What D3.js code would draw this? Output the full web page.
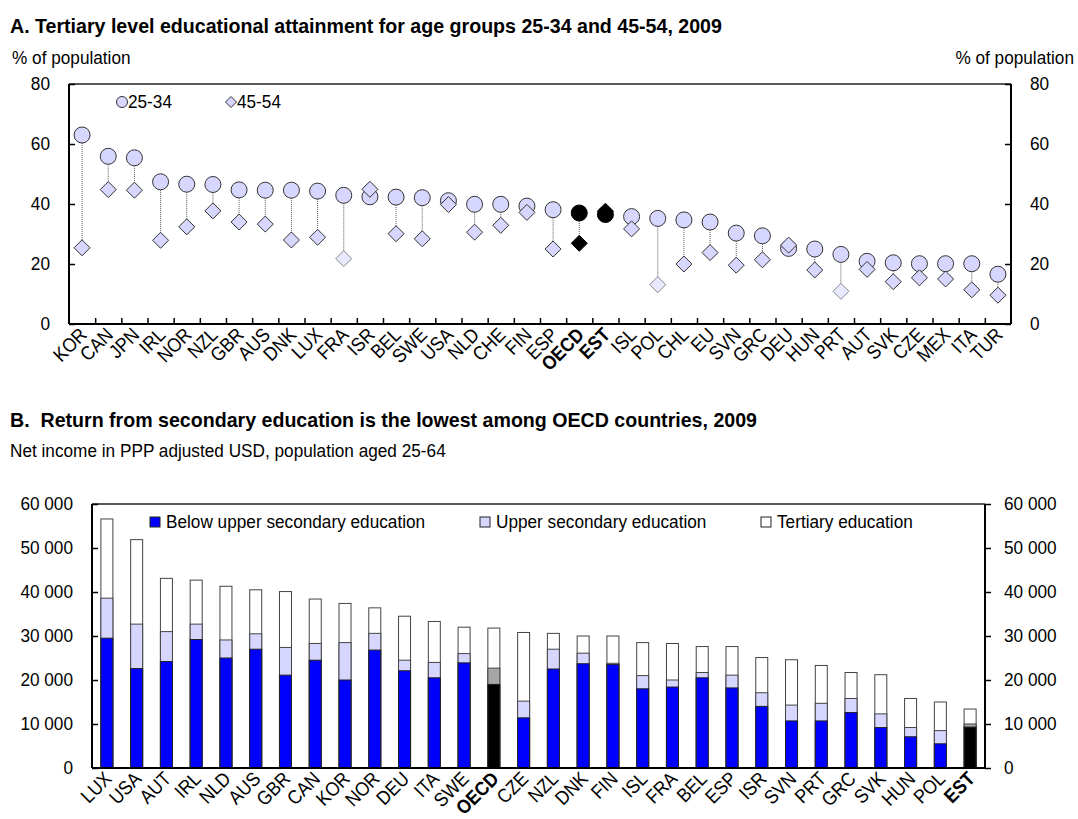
<!DOCTYPE html>
<html><head><meta charset="utf-8">
<script src="https://cdn.jsdelivr.net/npm/d3@7"></script>
<style>
body{margin:0;background:#fff;}
svg text{font-family:"Liberation Sans Narrow","Arial Narrow","Liberation Sans",Arial,sans-serif;fill:#000;}
</style></head>
<body><svg id="c" width="1078" height="819"></svg>
<script>
// ---------- Panel A data ----------
const countriesA = ["KOR","CAN","JPN","IRL","NOR","NZL","GBR","AUS","DNK","LUX","FRA","ISR","BEL","SWE","USA","NLD","CHE","FIN","ESP","OECD","EST","ISL","POL","CHL","EU","SVN","GRC","DEU","HUN","PRT","AUT","SVK","CZE","MEX","ITA","TUR"];
const age2534 = [63.0,55.9,55.4,47.4,46.6,46.5,44.7,44.6,44.6,44.3,42.9,42.4,42.3,42.1,41.1,39.9,39.9,39.3,38.1,37.0,36.5,35.8,35.2,34.7,34.0,30.3,29.4,25.2,25.0,23.2,20.9,20.4,20.1,20.1,20.1,16.6];
const age4554 = [25.4,44.8,44.6,27.9,32.4,37.7,34.0,33.3,28.0,28.9,21.8,44.9,30.1,28.4,39.8,30.6,32.9,37.2,25.0,26.9,37.6,31.7,13.1,20.0,23.8,19.6,21.4,26.3,18.0,10.9,18.2,14.1,15.4,15.0,11.4,9.6];
const highlightA = ["OECD","EST"];
const fadedA = ["FRA","POL","PRT"];
const ticksA = [0,20,40,60,80];
const seriesA = ["25-34","45-54"];

// ---------- Panel B data ----------
const countriesB = ["LUX","USA","AUT","IRL","NLD","AUS","GBR","CAN","KOR","NOR","DEU","ITA","SWE","OECD","CZE","NZL","DNK","FIN","ISL","FRA","BEL","ESP","ISR","SVN","PRT","GRC","SVK","HUN","POL","EST"];
const belowUpper = [29500,22600,24200,29200,25000,27000,21100,24500,20000,26800,22100,20500,23900,19000,11400,22500,23700,23500,18000,18400,20500,18200,14000,10700,10700,12600,9200,7100,5500,9300];
const upperSec = [38600,32700,31000,32700,29100,30500,27400,28300,28500,30600,24500,24000,26000,22700,15200,27000,26100,23800,21000,20000,21700,21100,17100,14300,14700,15800,12300,9200,8500,10000];
const tertiary = [56600,51900,43100,42700,41300,40500,40100,38400,37400,36400,34500,33300,32000,31800,30800,30600,30000,30000,28500,28300,27600,27600,25100,24600,23300,21700,21200,15800,15000,13400];
const highlightB = ["OECD","EST"];
const ticksB = [0,10000,20000,30000,40000,50000,60000];
const seriesB = ["Below upper secondary education","Upper secondary education","Tertiary education"];

const svg = d3.select("#c");
const LAV = "#d6d6ff", LAVF = "#e8e8ff";
const FS = 18.5, SX = 0.93, TFS = 20, TSX = 0.98, XFS = 19.5, XSX = 0.9;

// horizontally condense text around its anchor point
function narrow(sel, s){
  sel.each(function(){
    const t = d3.select(this);
    const x = +t.attr("x")||0, y = +t.attr("y")||0;
    const prev = t.attr("transform")||"";
    t.attr("transform", `${prev} translate(${x},${y}) scale(${s},1) translate(${-x},${-y})`);
  });
}
function label(x,y,txt,opt={}){
  const t = svg.append("text").attr("x",x).attr("y",y).attr("font-size",opt.fs||FS)
    .attr("text-anchor",opt.anchor||"start").attr("font-weight",opt.bold?"bold":null).text(txt);
  narrow(t, opt.sx||SX);
  return t;
}

// ================= PANEL A =================
const A = {l:69, r:1011, t:84, b:324};
const xA = d3.scaleBand().domain(countriesA).range([A.l, A.r]).padding(0);
const xAi = d3.scaleLinear().domain([0, countriesA.length]).range([A.l, A.r]);
const yA = d3.scaleLinear().domain([0,80]).range([A.b, A.t]);

label(10,33,"A. Tertiary level educational attainment for age groups 25-34 and 45-54, 2009",{fs:TFS,sx:TSX,bold:true});
label(12,64,"% of population");
label(1074,64,"% of population",{anchor:"end"});

svg.append("line").attr("x1",A.l).attr("x2",A.r).attr("y1",A.t).attr("y2",A.t).attr("stroke","#222").attr("stroke-width",1.5);
const gAL = svg.append("g").attr("transform",`translate(${A.l},0)`)
  .call(d3.axisLeft(yA).tickValues(ticksA).tickSize(-6).tickPadding(19).tickFormat(d3.format("d")));
const gAR = svg.append("g").attr("transform",`translate(${A.r},0)`)
  .call(d3.axisRight(yA).tickValues(ticksA).tickSize(-6).tickPadding(19).tickFormat(d3.format("d")));
const gAB = svg.append("g").attr("transform",`translate(0,${A.b})`)
  .call(d3.axisBottom(xAi).tickValues(d3.range(1,countriesA.length)).tickSize(-6).tickFormat(""));
[gAL,gAR,gAB].forEach(g=>{
  g.select(".domain").attr("stroke","#000").attr("stroke-width",2);
  g.selectAll(".tick line").attr("stroke","#000").attr("stroke-width",1.5);
  g.selectAll(".tick text").attr("font-size",FS).attr("font-family",null).call(narrow,SX);
});
gAL.select(".domain").attr("d",`M0,${A.t}V${A.b}`);
gAR.select(".domain").attr("d",`M0,${A.t}V${A.b}`);
gAB.select(".domain").attr("d",`M${A.l},0H${A.r}`);

svg.append("g").selectAll("text").data(countriesA).join("text")
  .attr("transform",d=>`translate(${xA(d)+xA.bandwidth()/2+6},${A.b+12}) rotate(-45)`)
  .attr("text-anchor","end").attr("font-size",XFS)
  .attr("font-weight",d=>highlightA.includes(d)?"bold":null)
  .text(d=>d).call(narrow,XSX);

const gA = svg.append("g");
countriesA.forEach((c,i)=>{
  const cx = xA(c)+xA.bandwidth()/2;
  gA.append("line").attr("x1",cx).attr("x2",cx).attr("y1",yA(age2534[i])).attr("y2",yA(age4554[i]))
    .attr("stroke","#555").attr("stroke-width",1).attr("stroke-dasharray","1,1");
});
const diamond = (cx,cy,s)=>`M${cx},${cy-s}L${cx+s},${cy}L${cx},${cy+s}L${cx-s},${cy}Z`;
countriesA.forEach((c,i)=>{
  const cx = xA(c)+xA.bandwidth()/2, hi = highlightA.includes(c);
  gA.append("circle").attr("cx",cx).attr("cy",yA(age2534[i])).attr("r",8)
    .attr("fill",hi?"#000":LAV).attr("stroke",hi?"#000":"#333").attr("stroke-width",1);
});
countriesA.forEach((c,i)=>{
  const cx = xA(c)+xA.bandwidth()/2, hi = highlightA.includes(c), fd = fadedA.includes(c);
  gA.append("path").attr("d",diamond(cx,yA(age4554[i]),8))
    .attr("fill",hi?"#000":(fd?LAVF:LAV)).attr("stroke",hi?"#000":(fd?"#8a8a8a":"#333")).attr("stroke-width",1);
});
svg.append("circle").attr("cx",122).attr("cy",102).attr("r",5.5).attr("fill",LAV).attr("stroke","#333");
label(128,108,seriesA[0]);
svg.append("path").attr("d",diamond(231,102,5.5)).attr("fill",LAV).attr("stroke","#333");
label(237,108,seriesA[1]);

// ================= PANEL B =================
const B = {l:92, r:985, t:504, b:768};
const xB = d3.scaleBand().domain(countriesB).range([B.l, B.r]).padding(0);
const yB = d3.scaleLinear().domain([0,60000]).range([B.b, B.t]);
const fmtB = v => d3.format(",")(v).replace(/,/g," ");

label(10,427,"B.\u00a0 Return from secondary education is the lowest among OECD countries, 2009",{fs:TFS,sx:TSX,bold:true});
label(10,457,"Net income in PPP adjusted USD, population aged 25-64");

svg.append("line").attr("x1",B.l).attr("x2",B.r).attr("y1",B.t).attr("y2",B.t).attr("stroke","#222").attr("stroke-width",1.5);
const gBL = svg.append("g").attr("transform",`translate(${B.l},0)`)
  .call(d3.axisLeft(yB).tickValues(ticksB).tickSize(-6).tickPadding(19).tickFormat(fmtB));
const gBR = svg.append("g").attr("transform",`translate(${B.r},0)`)
  .call(d3.axisRight(yB).tickValues(ticksB).tickSize(6).tickPadding(13).tickFormat(fmtB));
[gBL,gBR].forEach(g=>{
  g.select(".domain").attr("stroke","#000").attr("stroke-width",2).attr("d",`M0,${B.t}V${B.b}`);
  g.selectAll(".tick line").attr("stroke","#000").attr("stroke-width",1.5);
  g.selectAll(".tick text").attr("font-size",FS).attr("font-family",null).call(narrow,SX);
});

const bw = 12;
const gB = svg.append("g");
countriesB.forEach((c,i)=>{
  const cx = xB(c)+xB.bandwidth()/2, hi = highlightB.includes(c);
  const x0 = cx - bw/2;
  gB.append("rect").attr("x",x0).attr("width",bw).attr("y",yB(tertiary[i])).attr("height",yB(0)-yB(tertiary[i]))
    .attr("fill","#fff").attr("stroke","#444").attr("stroke-width",1);
  gB.append("rect").attr("x",x0).attr("width",bw).attr("y",yB(upperSec[i])).attr("height",yB(0)-yB(upperSec[i]))
    .attr("fill",hi?"#a6a6a6":LAV).attr("stroke","#444").attr("stroke-width",1);
  gB.append("rect").attr("x",x0).attr("width",bw).attr("y",yB(belowUpper[i])).attr("height",yB(0)-yB(belowUpper[i]))
    .attr("fill",hi?"#000":"#0000ff").attr("stroke","#222").attr("stroke-width",1);
});
svg.append("g").attr("transform",`translate(0,${B.b})`)
  .call(d3.axisBottom(xB).tickSize(0).tickFormat(""))
  .select(".domain").attr("stroke","#000").attr("stroke-width",2).attr("d",`M${B.l},0H${B.r}`);

svg.append("g").selectAll("text").data(countriesB).join("text")
  .attr("transform",d=>`translate(${xB(d)+xB.bandwidth()/2+6},${B.b+12}) rotate(-45)`)
  .attr("text-anchor","end").attr("font-size",XFS)
  .attr("font-weight",d=>highlightB.includes(d)?"bold":null)
  .text(d=>d).call(narrow,XSX);

const legB = [{x:150,fill:"#0000ff"},{x:480,fill:LAV},{x:761,fill:"#fff"}];
legB.forEach((L,i)=>{
  svg.append("rect").attr("x",L.x).attr("y",517).attr("width",10).attr("height",10).attr("fill",L.fill).attr("stroke","#222");
  label(L.x+16,528,seriesB[i]);
});
</script></body></html>
